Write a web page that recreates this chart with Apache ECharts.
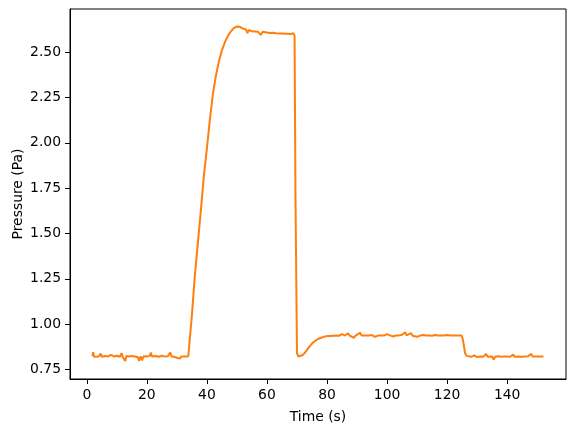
<!DOCTYPE html>
<html>
<head>
<meta charset="utf-8">
<script src="https://cdn.jsdelivr.net/npm/echarts@6/dist/echarts.min.js"></script>
<style>
html,body{margin:0;padding:0;background:#fff;}
#chart{width:576px;height:432px;}
</style>
</head>
<body>
<div id="chart"></div>
<script>
const timeSec = [
  1.9, 2.1, 2.4, 3, 4, 4.6, 5, 6, 7, 8, 9, 10, 11, 11.6, 12, 12.8, 13.2, 14, 15, 16, 17, 17.4, 17.9, 18.4, 18.9,
  20, 21, 21.3, 21.7, 23, 24, 25, 26, 27, 27.8, 28.2, 29, 30, 30.5, 31, 31.5, 32, 33, 33.8,
  35, 36, 37, 38, 39, 40, 40.5, 41, 42, 43, 44, 45, 46, 47, 48, 49, 50, 50.5, 51, 52, 53, 53.5, 54, 55, 56, 57, 58, 58.5,
  60, 61, 62, 63, 64, 65, 66, 67, 68, 68.8, 69.2, 69.5, 70.0, 70.4, 71, 72, 73, 74, 75, 76, 77, 78, 79, 80,
  81, 82, 83, 84, 85, 85.5, 86, 87, 87.5, 88, 89, 89.5, 90, 91, 91.5, 92, 93, 94, 95, 96, 96.5, 97, 98, 99,
  100, 100.5, 101, 102, 102.5, 103, 104, 105, 106, 106.5, 107, 108, 108.5, 109, 110, 110.5, 111, 112, 113, 114,
  115, 116, 117, 118, 119, 120, 121, 122, 123, 124, 124.8, 125.2, 125.6, 126.0, 126.5, 127, 128, 129, 130,
  131, 132, 133, 133.5, 134, 135, 135.5, 136, 137, 138, 139, 140, 141, 142, 142.5, 143, 144, 145, 146, 147,
  148, 148.5, 149, 150, 151, 152.1
];
const pressurePa = [
  0.823, 0.845, 0.820, 0.825, 0.822, 0.838, 0.820, 0.824, 0.821, 0.830, 0.822, 0.826, 0.820, 0.840, 0.818, 0.797, 0.825, 0.822, 0.824, 0.821, 0.818, 0.797, 0.822, 0.800, 0.823,
  0.822, 0.825, 0.843, 0.822, 0.824, 0.820, 0.826, 0.821, 0.823, 0.845, 0.822, 0.820, 0.815, 0.825, 0.810, 0.822, 0.824, 0.821, 0.823,
  1.05, 1.27, 1.45, 1.63, 1.82, 1.97, 2.05, 2.13, 2.27, 2.37, 2.45, 2.51, 2.555, 2.59, 2.615, 2.633, 2.642, 2.638, 2.640, 2.630, 2.625, 2.605, 2.622, 2.615, 2.614, 2.612, 2.595, 2.612,
  2.608, 2.606, 2.607, 2.604, 2.603, 2.603, 2.602, 2.601, 2.600, 2.605, 2.590, 1.70, 0.840, 0.822, 0.822, 0.830, 0.850, 0.873, 0.893, 0.907, 0.918, 0.925, 0.930, 0.934,
  0.935, 0.936, 0.937, 0.936, 0.945, 0.936, 0.937, 0.950, 0.937, 0.936, 0.925, 0.937, 0.938, 0.952, 0.937, 0.936, 0.938, 0.937, 0.940, 0.930, 0.938, 0.937, 0.938, 0.937,
  0.945, 0.936, 0.938, 0.932, 0.938, 0.937, 0.938, 0.942, 0.955, 0.938, 0.937, 0.950, 0.936, 0.940, 0.930, 0.938, 0.937, 0.940, 0.937, 0.938,
  0.936, 0.940, 0.937, 0.938, 0.937, 0.940, 0.937, 0.938, 0.937, 0.938, 0.937, 0.920, 0.880, 0.840, 0.825, 0.822, 0.820, 0.828, 0.818,
  0.822, 0.820, 0.835, 0.820, 0.822, 0.821, 0.805, 0.820, 0.823, 0.820, 0.822, 0.821, 0.820, 0.832, 0.820, 0.822, 0.821, 0.820, 0.822, 0.823,
  0.836, 0.821, 0.820, 0.822, 0.821, 0.822
];
const xTicks = [0, 20, 40, 60, 80, 100, 120, 140];
const yTicks = [0.75, 1.00, 1.25, 1.50, 1.75, 2.00, 2.25, 2.50];

const seriesData = timeSec.map((t, i) => [t, pressurePa[i]]);
const font = 'DejaVu Sans';
const chart = echarts.init(document.getElementById('chart'), null, {renderer: 'canvas'});
chart.setOption({
  animation: false,
  backgroundColor: '#ffffff',
  grid: {left: 70, right: 10, top: 9, bottom: 53, outerBoundsMode: 'none', containLabel: false,
         show: true, borderColor: '#000', borderWidth: 1, backgroundColor: 'transparent'},
  xAxis: {
    type: 'value', min: -5.6, max: 159.6,
    name: 'Time (s)', nameLocation: 'middle', nameGap: 31, nameMoveOverlap: false,
    nameTextStyle: {fontFamily: font, fontSize: 13.9, color: '#000'},
    axisLine: {show: true, onZero: false, lineStyle: {color: '#000', width: 1}},
    axisTick: {show: true, inside: false, length: 5, lineStyle: {color: '#000', width: 1}, customValues: xTicks},
    axisLabel: {fontFamily: font, fontSize: 13.9, color: '#000', margin: 9, customValues: xTicks, formatter: v => String(v)},
    splitLine: {show: false}
  },
  yAxis: {
    type: 'value', min: 0.6975, max: 2.738,
    name: 'Pressure (Pa)', nameLocation: 'middle', nameGap: 45, nameRotate: 90, nameMoveOverlap: false,
    nameTextStyle: {fontFamily: font, fontSize: 13.9, color: '#000'},
    axisLine: {show: true, onZero: false, lineStyle: {color: '#000', width: 1}},
    axisTick: {show: true, inside: false, length: 5, lineStyle: {color: '#000', width: 1}, customValues: yTicks},
    axisLabel: {fontFamily: font, fontSize: 13.9, color: '#000', margin: 9, customValues: yTicks, formatter: v => v.toFixed(2)},
    splitLine: {show: false}
  },
  series: [{
    type: 'line', data: seriesData, showSymbol: false, symbol: 'none',
    lineStyle: {color: '#ff7f0e', width: 2}, itemStyle: {color: '#ff7f0e'}
  }]
});
</script>
</body>
</html>
